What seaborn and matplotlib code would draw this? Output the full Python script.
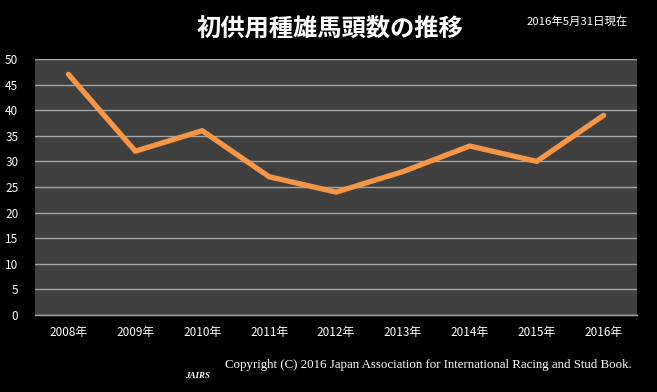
import pandas as pd
import numpy as np
import matplotlib
matplotlib.use('Agg')
import matplotlib.pyplot as plt
import seaborn as sns

# data
years = ['2008年', '2009年', '2010年', '2011年', '2012年', '2013年', '2014年', '2015年', '2016年']
counts = [47, 32, 36, 27, 24, 28, 33, 30, 39]
yticks = [0, 5, 10, 15, 20, 25, 30, 35, 40, 45, 50]

sns.set_style('dark')
plt.rcParams['font.family'] = ['Noto Sans CJK JP', 'DejaVu Sans']

df = pd.DataFrame({'year': years, 'count': counts})

fig = plt.figure(figsize=(6.57, 3.92), dpi=100, facecolor='black')
ax = fig.add_axes([0.0533, 0.1964, 0.9163, 0.6531])
ax.set_facecolor('#404040')

sns.lineplot(data=df, x='year', y='count', ax=ax, color='#F79646', linewidth=3.8,
             sort=False, solid_capstyle='round')

ax.set_xlim(-0.5, len(years) - 0.5)
ax.set_ylim(0, 50)
ax.set_yticks(yticks)
ax.yaxis.grid(True, color='#A6A6A6', linewidth=1)
ax.xaxis.grid(False)
ax.set_axisbelow(True)
for s in ['left', 'right', 'top']:
    ax.spines[s].set_visible(False)
ax.spines['bottom'].set_color('#A6A6A6')
ax.spines['bottom'].set_linewidth(1)
ax.tick_params(axis='both', colors='white', labelsize=8.5, length=0)
ax.tick_params(axis='x', pad=8)
ax.tick_params(axis='y', pad=12)
ax.set_xlabel('')
ax.set_ylabel('')

fig.text(0.502, 0.928, '初供用種雄馬頭数の推移', color='white', fontsize=17.5,
         fontweight='bold', ha='center', va='center')
fig.text(0.802, 0.945, '2016年5月31日現在', color='white', fontsize=8.2,
         ha='left', va='center')
fig.text(0.342, 0.068, 'Copyright (C) 2016 Japan Association for International Racing and Stud Book.',
         color='white', fontsize=9.3, family='Liberation Serif', ha='left', va='center')
fig.text(0.301, 0.04, 'JAIRS', color='white', fontsize=6.5, family='Liberation Serif',
         style='italic', fontweight='bold', ha='center', va='center')

fig.savefig('out.png', dpi=100, facecolor='black')
